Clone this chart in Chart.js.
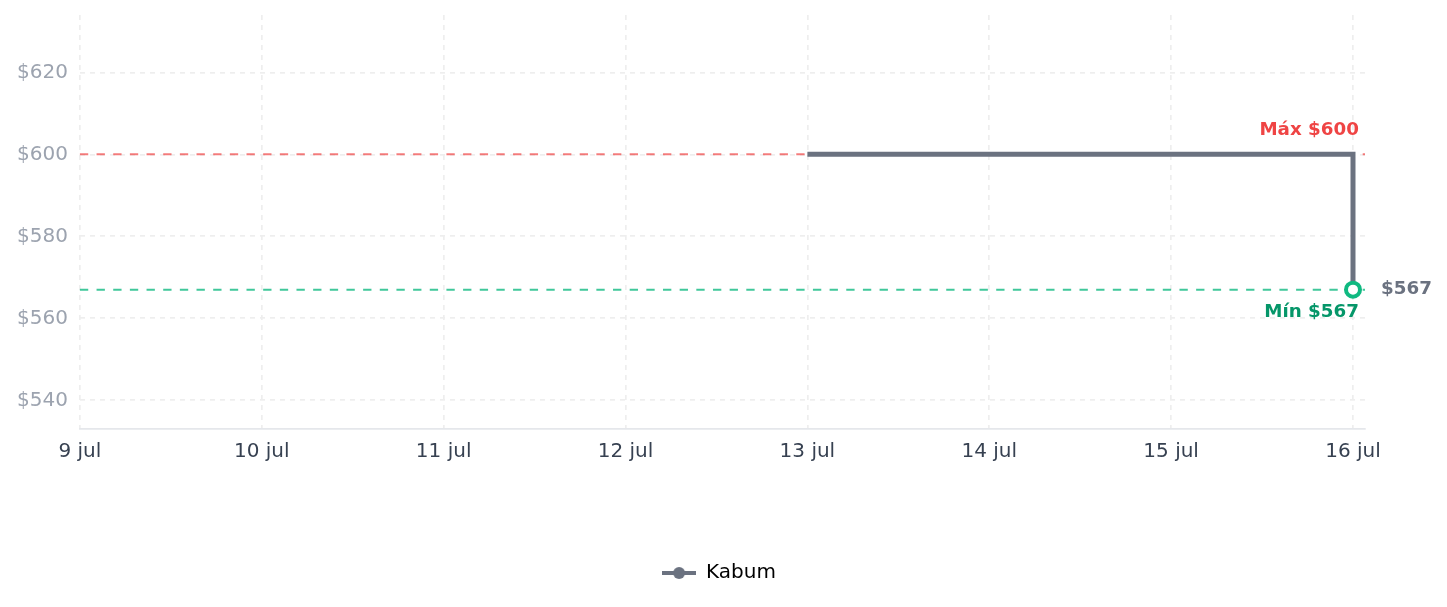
<!DOCTYPE html>
<html>
<head>
<meta charset="utf-8">
<script src="https://cdn.jsdelivr.net/npm/chart.js@4.4.1/dist/chart.umd.min.js"></script>
<style>
  html, body { margin: 0; padding: 0; background: #ffffff; }
  #wrap { width: 1447px; height: 607px; position: relative; }
</style>
</head>
<body>
<div id="wrap"><canvas id="c"></canvas></div>
<script>
// ---- data ----
const seriesName = 'Kabum';
const tickDays = [9, 10, 11, 12, 13, 14, 15, 16];
const tickLabels = ['9 jul', '10 jul', '11 jul', '12 jul', '13 jul', '14 jul', '15 jul', '16 jul'];
const priceDays = [13, 16];
const prices = [600, 567];
const yTicks = [540, 560, 580, 600, 620];

const maxPrice = Math.max(...prices);
const minPrice = Math.min(...prices);
const lastPrice = prices[prices.length - 1];

// legend icon: line with dot
const legendIcon = document.createElement('canvas');
legendIcon.width = 34; legendIcon.height = 14;
(function () {
  const g = legendIcon.getContext('2d');
  g.strokeStyle = '#6b7280';
  g.lineWidth = 4;
  g.beginPath(); g.moveTo(0, 7); g.lineTo(34, 7); g.stroke();
  g.fillStyle = '#6b7280';
  g.beginPath(); g.arc(17, 7, 6, 0, Math.PI * 2); g.fill();
})();

const refLines = {
  id: 'refLines',
  afterLayout(chart) {
    if (chart.legend) { chart.legend.left += 34; chart.legend.right += 34; }
  },
  beforeDatasetsDraw(chart) {
    const { ctx, chartArea, scales } = chart;
    const draw = (v, color) => {
      const y = scales.y.getPixelForValue(v);
      ctx.save();
      ctx.strokeStyle = color;
      ctx.lineWidth = 2;
      ctx.setLineDash([8.33, 8.33]);
      ctx.beginPath();
      ctx.moveTo(chartArea.left, y);
      ctx.lineTo(chartArea.right, y);
      ctx.stroke();
      ctx.restore();
    };
    draw(maxPrice, 'rgba(239,68,68,0.7)');
    draw(minPrice, 'rgba(16,185,129,0.8)');
  },
  afterDatasetsDraw(chart) {
    const { ctx, scales } = chart;
    const px = scales.x.getPixelForValue(priceDays[priceDays.length - 1]);
    const yMax = scales.y.getPixelForValue(maxPrice);
    const yMin = scales.y.getPixelForValue(minPrice);
    const yLast = scales.y.getPixelForValue(lastPrice);
    ctx.save();
    ctx.font = 'bold 18.3px "DejaVu Sans"';
    ctx.textBaseline = 'middle';
    ctx.textAlign = 'right';
    ctx.fillStyle = '#ef4444';
    ctx.fillText('Máx $' + maxPrice, px + 6, yMax - 24);
    ctx.fillStyle = '#059669';
    ctx.fillText('Mín $' + minPrice, px + 6, yMin + 23);
    ctx.textAlign = 'left';
    ctx.fillStyle = '#6b7280';
    ctx.fillText('$' + lastPrice, px + 28, yLast);
    ctx.restore();
  }
};

new Chart(document.getElementById('c'), {
  type: 'line',
  data: {
    datasets: [{
      label: seriesName,
      data: priceDays.map((d, i) => ({ x: d, y: prices[i] })),
      borderColor: '#6b7280',
      backgroundColor: '#6b7280',
      borderWidth: 5,
      stepped: 'before',
      pointRadius: prices.map((p, i) => i === prices.length - 1 ? 7 : 0),
      pointHoverRadius: prices.map((p, i) => i === prices.length - 1 ? 7 : 0),
      pointBackgroundColor: '#ffffff',
      pointBorderColor: '#10b981',
      pointBorderWidth: 4,
      fill: false
    }]
  },
  options: {
    responsive: true,
    maintainAspectRatio: false,
    animation: false,
    layout: { padding: { left: 5, right: 82, top: 15, bottom: 14 } },
    scales: {
      x: {
        type: 'linear',
        min: 9,
        max: 16.066,
        afterBuildTicks(scale) { scale.ticks = tickDays.map(v => ({ value: v })); },
        ticks: {
          callback: (v) => tickLabels[tickDays.indexOf(v)],
          color: '#374151',
          font: { family: '"DejaVu Sans"', size: 20 },
          padding: 11,
          maxRotation: 0,
          autoSkip: false
        },
        grid: { color: '#eeeeee', lineWidth: 1.7, drawTicks: false },
        border: { display: true, color: '#e5e7eb', width: 1.7, dash: [5, 5] }
      },
      y: {
        min: 533,
        max: 634,
        afterBuildTicks(scale) { scale.ticks = yTicks.map(v => ({ value: v })); },
        ticks: {
          callback: (v) => '$' + v,
          color: '#9ca3af',
          font: { family: '"DejaVu Sans"', size: 20, lineHeight: 0.3 },
          padding: 12
        },
        grid: { color: '#eeeeee', lineWidth: 1.7, drawTicks: false },
        border: { display: false, dash: [5, 5] }
      }
    },
    plugins: {
      legend: {
        position: 'bottom',
        labels: {
          usePointStyle: true,
          pointStyle: legendIcon,
          pointStyleWidth: 34,
          color: '#000000',
          font: { family: '"DejaVu Sans"', size: 20 },
          padding: 88
        }
      },
      tooltip: { enabled: false }
    }
  },
  plugins: [refLines]
});
</script>
</body>
</html>
